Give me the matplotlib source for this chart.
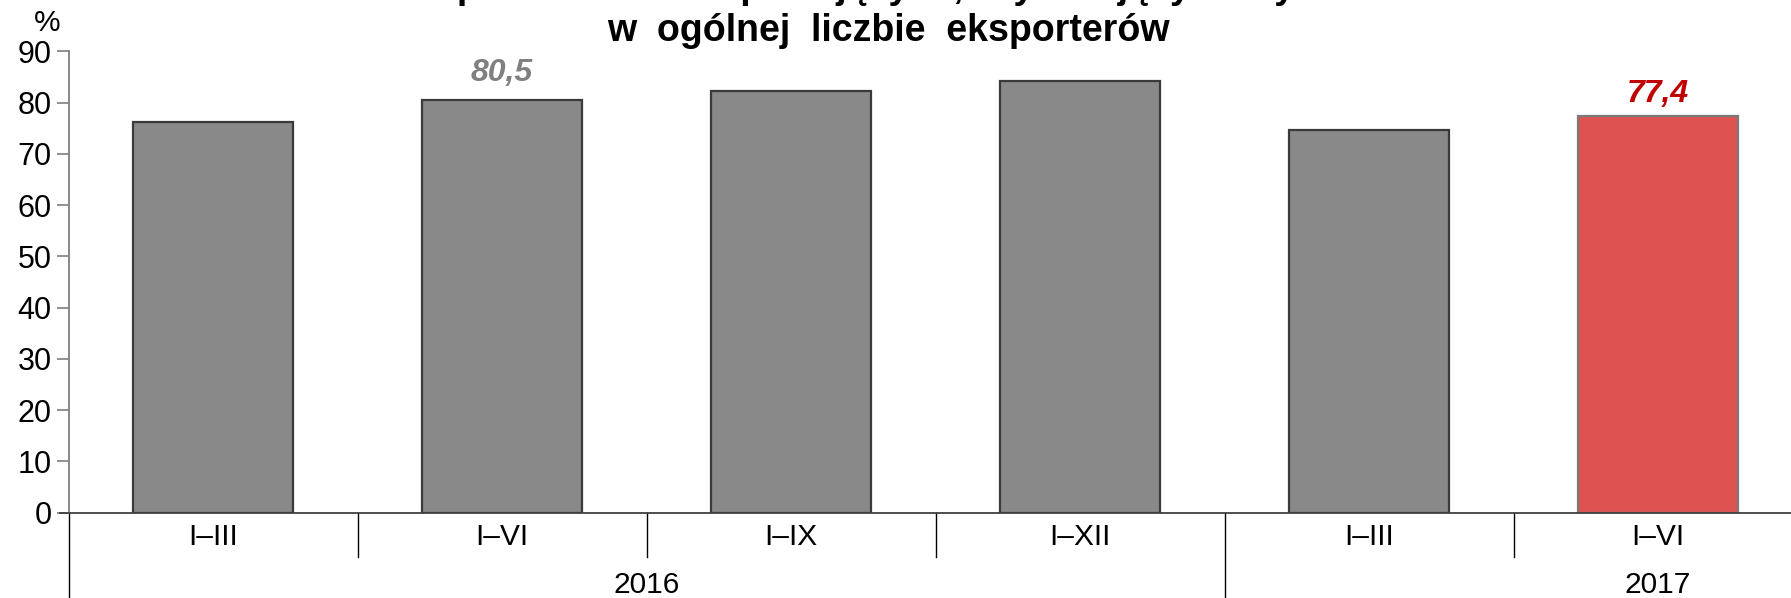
import numpy as np
import matplotlib.pyplot as plt
from matplotlib import transforms

# data
periods = ['I–III', 'I–VI', 'I–IX', 'I–XII', 'I–III', 'I–VI']
values = [76.2, 80.5, 82.2, 84.3, 74.7, 77.4]
years = ['2016', '2017']
year_spans = [(0, 3), (4, 5)]
labelled = {1: '80,5', 5: '77,4'}

plt.rcParams['font.family'] = ['Liberation Sans', 'DejaVu Sans']

W, H = 1791, 598
fig = plt.figure(figsize=(W / 100, H / 100), dpi=100)
# axes runs a little past the right edge, as in the original
ax = fig.add_axes([68.5 / W, 1 - 512.6 / H, (1802.5 - 68.5) / W, (512.6 - 51.4) / H])

x = np.arange(len(values))
colors = ['#898989'] * 5 + ['#df5252']
edges = ['#3a3a3a'] * 5 + ['#7a7a7a']
ax.bar(x, values, width=0.554, color=colors, edgecolor=edges, linewidth=1.6, zorder=2)

for i, txt in labelled.items():
    red = i == 5
    ax.annotate(txt, (x[i], values[i]), xytext=(0, 5 if red else 9), textcoords='offset points',
                ha='center', va='bottom', fontsize=23, fontweight='bold',
                fontstyle='italic', color='#c00000' if red else '#808080')

ax.set_xlim(-0.5, len(values) - 0.5)
ax.set_ylim(0, 90)
ax.set_yticks(range(0, 91, 10))
ax.tick_params(axis='y', labelsize=22, length=9, width=1.2, color='#7f7f7f', pad=3)
ax.set_xticks([])
for s in ['top', 'right']:
    ax.spines[s].set_visible(False)
ax.spines['left'].set_color('#7f7f7f')
ax.spines['left'].set_linewidth(1.3)
ax.spines['bottom'].set_color('#404040')
ax.spines['bottom'].set_linewidth(1.3)

# two-level category axis
tr = transforms.blended_transform_factory(ax.transData, ax.transAxes)
for i, p in enumerate(periods):
    ax.text(x[i], -0.053, p, transform=tr, ha='center', va='center', fontsize=21.5)
year_bounds = [a - 0.5 for a, b in year_spans]
for b in np.arange(-0.5, len(values), 1.0):
    y0 = -0.2 if b in year_bounds else -0.096
    ax.plot([b, b], [0, y0], transform=tr, color='#000000', lw=1.0, clip_on=False)
ax.plot([-0.5, -0.5 - 9 / 289], [0, 0], transform=tr, color='#404040', lw=1.3, clip_on=False)
for yr, (a, b) in zip(years, year_spans):
    ax.text((a + b) / 2 + (0.5 if yr == '2017' else 0), -0.157, yr, transform=tr,
            ha='center', va='center', fontsize=21.5)

fig.text(47 / W, 1 - 23 / H, '%', ha='center', va='center', fontsize=21.5)

# title (first line is cut off by the top of the figure)
fig.text(888 / W, 1 + 2 / H, 'Udział  podmiotów  eksportujących,  wykazujących  zysk  netto',
         ha='center', va='baseline', fontsize=27, fontweight='bold')
fig.text(888 / W, 1 - 41 / H, 'w  ogólnej  liczbie  eksporterów',
         ha='center', va='baseline', fontsize=27, fontweight='bold')

fig.savefig('out.png', dpi=100)
